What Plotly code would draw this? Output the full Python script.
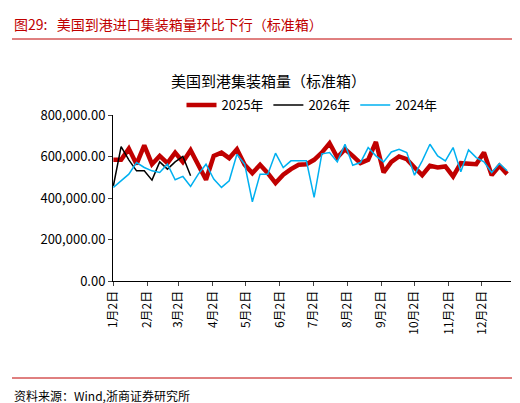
import plotly.graph_objects as go

y2025 = [584,584,638,563,654,563,603,568,619,574,630,555,488,603,619,592,635,560,520,560,520,472,512,539,560,563,584,619,664,595,635,603,568,584,670,523,574,600,587,547,510,555,547,552,504,568,563,563,619,510,555,515]
y2026 = [459,648,584,531,531,486,574,539,574,600,507]
y2024 = [451,483,515,571,547,531,523,563,488,504,456,515,563,491,451,483,611,563,382,515,515,616,547,579,579,579,403,613,619,574,659,558,571,643,603,574,622,635,619,510,579,659,603,579,643,526,632,595,574,523,566,531]
tick_labels = ["1月2日","2月2日","3月2日","4月2日","5月2日","6月2日","7月2日","8月2日","9月2日","10月2日","11月2日","12月2日"]
tick_days = [2,33,61,92,122,153,183,214,245,275,306,336]

F = "Noto Sans CJK SC"
W, H = 520, 403
L, R, T, B = 105, 503, 107, 273

def px(x): return (x - L) / (R - L)
def py(y): return (B - y) / (B - T)

fig = go.Figure()
fig.add_trace(go.Scatter(x=list(range(len(y2025))), y=[v*1000 for v in y2025], name="2025年", mode="lines", line=dict(color="#C00000", width=4.5)))
fig.add_trace(go.Scatter(x=list(range(len(y2026))), y=[v*1000 for v in y2026], name="2026年", mode="lines", line=dict(color="#000000", width=1.5)))
fig.add_trace(go.Scatter(x=list(range(len(y2024))), y=[v*1000 for v in y2024], name="2024年", mode="lines", line=dict(color="#00B0F0", width=1.5)))

fig.update_layout(
    width=W, height=H, margin=dict(l=L, r=W-R, t=T, b=H-B, autoexpand=False),
    paper_bgcolor="white", plot_bgcolor="white", font=dict(family=F, color="black", size=12),
    showlegend=True,
    legend=dict(orientation="h", x=0.5, xanchor="center", y=py(97), yanchor="middle", font=dict(size=13), traceorder="normal"),
    xaxis=dict(range=[-0.05, 51.5], tickvals=[(d-2)/7 for d in tick_days], ticktext=tick_labels, tickangle=-90,
               showline=True, linecolor="black", ticks="outside", ticklen=4, showgrid=False, zeroline=False, tickfont=dict(size=12), automargin=False),
    yaxis=dict(range=[0, 800000], tickvals=[0,200000,400000,600000,800000],
               ticktext=["0.00","200,000.00","400,000.00","600,000.00","800,000.00"],
               showline=True, linecolor="black", ticks="outside", ticklen=4, showgrid=False, zeroline=False, tickfont=dict(size=13), automargin=False),
    annotations=[
        dict(text="图29:   美国到港进口集装箱量环比下行（标准箱）", x=px(4), y=py(16), xref="paper", yref="paper", xanchor="left", yanchor="middle", showarrow=False, font=dict(size=14, color="#C00000")),
        dict(text="美国到港集装箱量（标准箱）", x=px(260), y=py(72), xref="paper", yref="paper", xanchor="center", yanchor="middle", showarrow=False, font=dict(size=15)),
        dict(text="资料来源：Wind,浙商证券研究所", x=px(4), y=py(387), xref="paper", yref="paper", xanchor="left", yanchor="middle", showarrow=False, font=dict(size=12)),
    ],
    shapes=[
        dict(type="line", xref="paper", yref="paper", x0=px(4), x1=px(514), y0=py(31), y1=py(31), line=dict(color="#C00000", width=1)),
        dict(type="line", xref="paper", yref="paper", x0=px(4), x1=px(514), y0=py(370), y1=py(370), line=dict(color="#C00000", width=1)),
    ],
)
fig.write_html("out.html")
